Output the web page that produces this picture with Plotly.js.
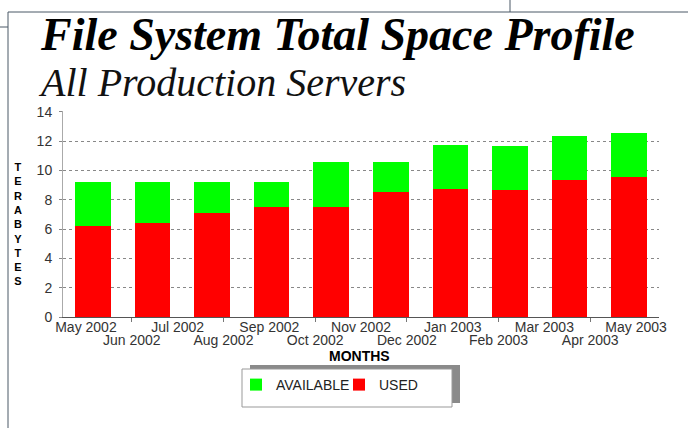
<!DOCTYPE html>
<html>
<head>
<meta charset="utf-8">
<script src="https://cdn.plot.ly/plotly-3.0.1.min.js"></script>
<style>html,body{margin:0;padding:0;background:#fff;}#chart{width:688px;height:428px;}</style>
</head>
<body>
<div id="chart"></div>
<script>
// Data points (10 samples)
const samples = ['S1','S2','S3','S4','S5','S6','S7','S8','S9','S10'];
const usedTB = [6.2, 6.4, 7.1, 7.5, 7.5, 8.5, 8.75, 8.65, 9.35, 9.55];
const availableTB = [3.0, 2.8, 2.1, 1.7, 3.05, 2.05, 3.0, 3.0, 3.0, 3.0];
// Month tick labels (13)
const monthLabels = ['May 2002','Jun 2002','Jul 2002','Aug 2002','Sep 2002','Oct 2002','Nov 2002',
                     'Dec 2002','Jan 2003','Feb 2003','Mar 2003','Apr 2003','May 2003'];
const yTicks = [0, 2, 4, 6, 8, 10, 12, 14];

const evenIdx = [], evenText = [], oddIdx = [], oddText = [];
monthLabels.forEach((m, i) => { if (i % 2 === 0) { evenIdx.push(i); evenText.push(m); } else { oddIdx.push(i); oddText.push(m); } });

const traces = [
  {type:'bar', name:'USED', x:samples, y:usedTB, marker:{color:'#ff0000'}, hoverinfo:'y'},
  {type:'bar', name:'AVAILABLE', x:samples, y:availableTB, marker:{color:'#00ff00'}, hoverinfo:'y'}
];

const PX = v => (v - 63) / 596;      // pixel x -> paper
const PY = v => (317 - v) / 206;     // pixel y -> paper

const tickFont = {family: '"Liberation Sans", Arial, sans-serif', size: 14, color: '#333'};

const layout = {
  width: 688, height: 428,
  margin: {l: 63, r: 29, t: 111, b: 111},
  paper_bgcolor: '#ffffff', plot_bgcolor: '#ffffff',
  barmode: 'stack', bargap: 0.4,
  font: {family: '"Liberation Sans", Arial, sans-serif', size: 13, color: '#333'},
  showlegend: true,
  legend: {orientation: 'h', traceorder: 'reversed', x: PX(236), xanchor: 'left', y: PY(385), yanchor: 'middle',
           entrywidth: 58, entrywidthmode: 'pixels',
           bgcolor: 'rgba(0,0,0,0)', borderwidth: 0, font: {family: '"Liberation Sans", Arial, sans-serif', size: 14, color: '#222'}},
  xaxis: {type: 'category', showticklabels: false, ticks: '', showgrid: false, zeroline: false,
          showline: true, linecolor: '#555', linewidth: 1, fixedrange: true},
  xaxis2: {overlaying: 'x', anchor: 'y', side: 'bottom', range: [-0.5, 12.5], tickmode: 'array',
           tickvals: evenIdx, ticktext: evenText, tickangle: 0, ticks: '', showgrid: false, zeroline: false,
           showline: false, tickfont: tickFont},
  xaxis3: {overlaying: 'x', anchor: 'y', side: 'bottom', range: [-0.5, 12.5], tickmode: 'array',
           tickvals: oddIdx, ticktext: oddText, tickangle: 0, ticks: 'outside', ticklen: 4, tickcolor: '#777',
           ticklabelstandoff: 6, tickfont: tickFont,
           showgrid: false, zeroline: false, showline: false},
  yaxis: {range: [0, 14.05], tickmode: 'array', tickvals: yTicks, showgrid: true, gridcolor: '#888',
          griddash: 'dot', gridwidth: 1, zeroline: false, showline: true, linecolor: '#aaa', linewidth: 1,
          ticks: 'outside', ticklen: 3, tickcolor: '#888', ticklabelstandoff: 4,
          tickfont: tickFont, fixedrange: true},
  shapes: [
    {type:'rect', xref:'paper', yref:'paper', x0:PX(250), x1:PX(460), y0:PY(365), y1:PY(403),
     fillcolor:'#8a8a8a', line:{width:0}},
    {type:'rect', xref:'paper', yref:'paper', x0:PX(242), x1:PX(452), y0:PY(369), y1:PY(407),
     fillcolor:'#ffffff', line:{width:1, color:'#999'}},
    // page frame
    {type:'line', xref:'paper', yref:'paper', x0:PX(8), x1:PX(8), y0:PY(12), y1:PY(428), line:{width:1, color:'#4a5866'}},
    {type:'line', xref:'paper', yref:'paper', x0:PX(8), x1:PX(688), y0:PY(12), y1:PY(12), line:{width:1, color:'#4a5866'}},
    {type:'line', xref:'paper', yref:'paper', x0:PX(0), x1:PX(8), y0:PY(27), y1:PY(27), line:{width:1, color:'#4a5866'}},
    {type:'line', xref:'paper', yref:'paper', x0:PX(510), x1:PX(510), y0:PY(0), y1:PY(12), line:{width:1, color:'#4a5866'}}
  ],
  annotations: [
    {text:'<b><i>File System Total Space Profile</i></b>', xref:'paper', yref:'paper', x:PX(38), xanchor:'left',
     y:PY(35), yanchor:'middle', showarrow:false,
     font:{family:'"Liberation Serif", "Times New Roman", serif', size:46, color:'#000'}},
    {text:'<i>All Production Servers</i>', xref:'paper', yref:'paper', x:PX(36), xanchor:'left',
     y:PY(82), yanchor:'middle', showarrow:false,
     font:{family:'"Liberation Serif", "Times New Roman", serif', size:40, color:'#111'}},
    {text:'<b>T<br>E<br>R<br>A<br>B<br>Y<br>T<br>E<br>S</b>', xref:'paper', yref:'paper', x:PX(18), xanchor:'center',
     y:PY(224), yanchor:'middle', showarrow:false,
     font:{family:'"Liberation Sans", Arial, sans-serif', size:11, color:'#000'}},
    {text:'<b>MONTHS</b>', xref:'paper', yref:'paper', x:PX(359), xanchor:'center',
     y:PY(356), yanchor:'middle', showarrow:false,
     font:{family:'"Liberation Sans", Arial, sans-serif', size:14, color:'#000'}}
  ]
};

// invisible traces binding the overlay month axes
traces.push({type:'scatter', x:[0], y:[0], xaxis:'x2', mode:'markers', marker:{opacity:0}, showlegend:false, hoverinfo:'skip'});
traces.push({type:'scatter', x:[1], y:[0], xaxis:'x3', mode:'markers', marker:{opacity:0}, showlegend:false, hoverinfo:'skip'});

Plotly.newPlot('chart', traces, layout, {displayModeBar: false, staticPlot: true});
</script>
</body>
</html>
